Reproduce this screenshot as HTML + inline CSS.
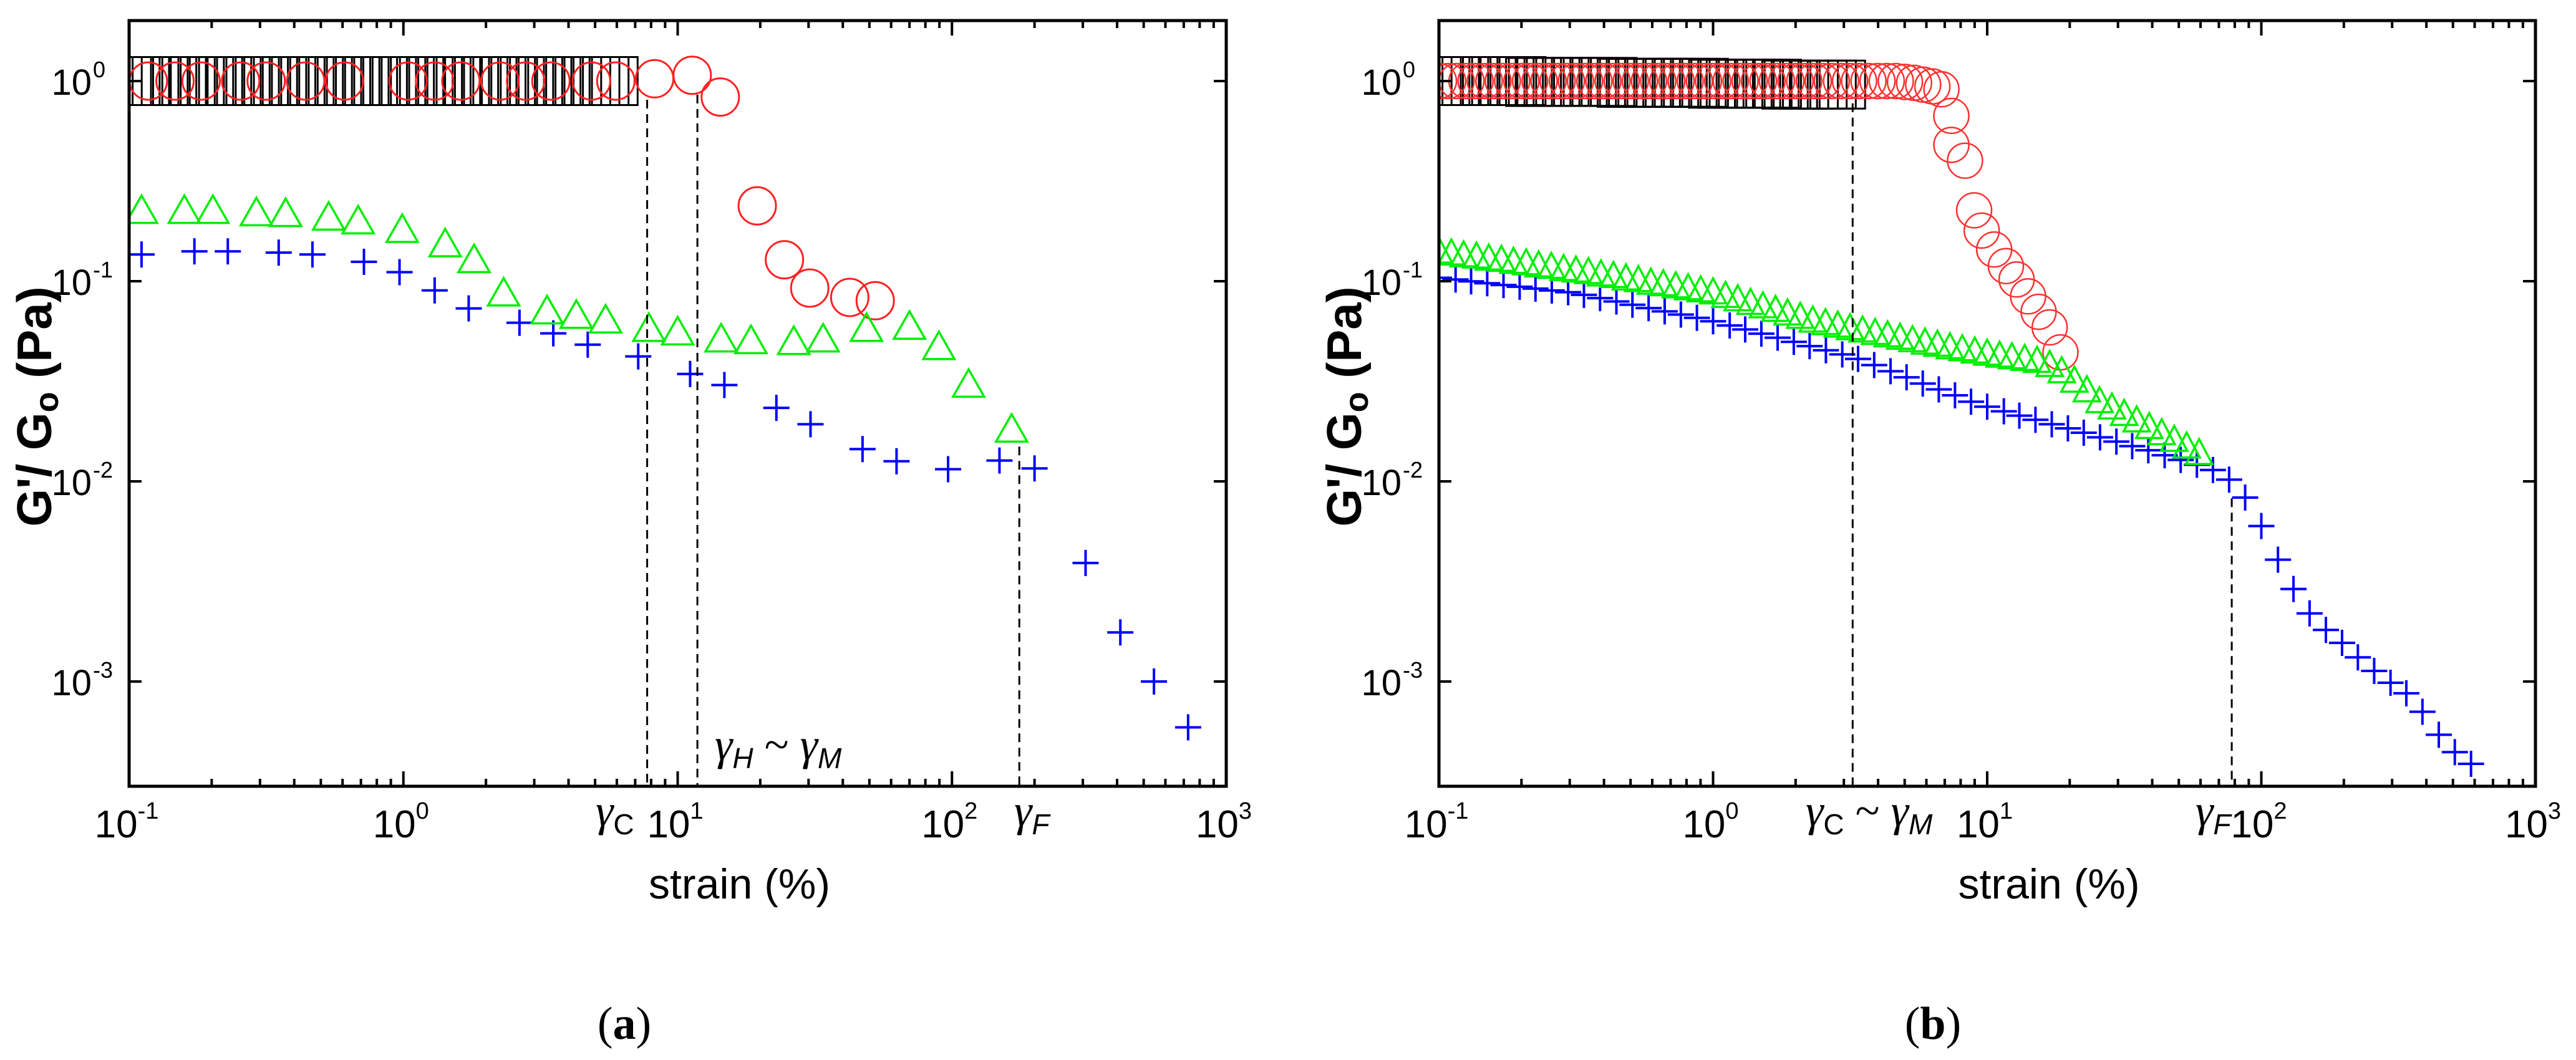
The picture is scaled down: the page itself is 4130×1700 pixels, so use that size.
<!DOCTYPE html>
<html><head><meta charset="utf-8"><title>G'/G0 vs strain</title>
<style>html,body{margin:0;padding:0;background:#fff}svg{display:block}</style></head>
<body>
<svg id="fig" xmlns="http://www.w3.org/2000/svg" width="4130" height="1700" viewBox="0 0 4130 1700">
<defs>
<clipPath id="clipA"><rect x="207" y="33" width="1759" height="1228"/></clipPath>
<clipPath id="clipB"><rect x="2307" y="33" width="1758" height="1228"/></clipPath>
</defs>
<rect width="4130" height="1700" fill="#fff"/>
<g id="panelA"></g>
<g id="panelB"></g>
</svg>
<script>
// ---------- data: panel (a) ----------
const A_sq_x = [0.1,0.108,0.116,0.126,0.136,0.147,0.158,0.171,0.185,0.2,0.215,0.233,0.251,0.271,0.293,0.316,0.341,0.369,0.398,0.43,0.464,0.501,0.541,0.584,0.631,0.681,0.736,0.794,0.858,0.926,1,1.08,1.16,1.26,1.36,1.47,1.58,1.71,1.85,2,2.15,2.33,2.51,2.71,2.93,3.16,3.41,3.69,3.98,4.3,4.64,5.01,5.41,5.84];
const A_sq_y = [1,1,1,1,1,1,1,1,1,1,1,1,1,1,1,1,1,1,1,1,1,1,1,1,1,1,1,1,1,1,1,1,1,1,1,1,1,1,1,1,1,1,1,1,1,1,1,1,1,1,1,1,1,1];
const A_ci_x = [0.1175,0.147,0.183,0.255,0.316,0.44,0.61,1.04,1.30,1.62,2.25,2.79,3.45,4.85,5.95,8.24,11.3,14.3,19.5,24.5,30.3,42.4,52.5];
const A_ci_y = [1,1,1,1,1,1,1,1,1,1,1,1,1,1,1,1.027,1.069,0.832,0.238,0.128,0.0924,0.083,0.0799];
const A_tr_x = [0.111,0.159,0.202,0.291,0.372,0.534,0.684,0.99,1.42,1.81,2.32,3.34,4.27,5.46,7.85,10.0,14.4,18.5,26.5,33.9,48.8,70,89.6,115,165];
const A_tr_y = [0.229,0.229,0.229,0.223,0.221,0.212,0.203,0.184,0.156,0.130,0.0886,0.0721,0.0685,0.0649,0.0589,0.0566,0.0522,0.0512,0.0507,0.0522,0.0589,0.0604,0.0478,0.031,0.0185];
const A_cr_x = [0.111,0.173,0.229,0.351,0.466,0.718,0.968,1.30,1.73,2.65,3.52,4.70,7.18,11.1,14.8,22.9,30.5,47.2,62.8,96.8,149,200,307,411,545,726];
const A_cr_y = [0.136,0.141,0.141,0.139,0.136,0.125,0.111,0.090,0.0731,0.0620,0.0549,0.0482,0.0421,0.0344,0.0303,0.0233,0.0193,0.0145,0.0126,0.0115,0.0127,0.0116,0.00391,0.00176,0.00100,0.00059];
const A_marks = [7.74, 11.8, 176];
const A_markTop = [1.0, 1.06, 0.0185];
// ---------- data: panel (b) ----------
const B_sq_x = [0.1,0.108,0.116,0.126,0.136,0.147,0.158,0.171,0.185,0.2,0.215,0.233,0.251,0.271,0.293,0.316,0.341,0.369,0.398,0.43,0.464,0.501,0.541,0.584,0.631,0.681,0.736,0.794,0.858,0.926,1,1.08,1.16,1.26,1.36,1.47,1.58,1.71,1.85,2,2.15,2.33,2.51,2.71,2.93];
const B_sq_y = [1,1,1,1,1,1,1,1,1,1,0.99,0.99,0.99,0.99,0.99,0.99,0.99,0.99,0.99,0.99,0.98,0.98,0.98,0.98,0.98,0.98,0.98,0.98,0.98,0.98,0.97,0.97,0.97,0.97,0.97,0.97,0.97,0.97,0.96,0.96,0.96,0.96,0.96,0.96,0.96];
const B_ci_x = [0.1,0.108,0.116,0.126,0.136,0.147,0.158,0.171,0.185,0.2,0.215,0.233,0.251,0.271,0.293,0.316,0.341,0.369,0.398,0.43,0.464,0.501,0.541,0.584,0.631,0.681,0.736,0.794,0.858,0.926,1,1.08,1.16,1.26,1.36,1.47,1.58,1.71,1.85,2,2.15,2.33,2.51,2.71,2.93,3.16,3.41,3.69,3.98,4.3,4.64,5.01,5.41,5.84,6.31,6.81,7.4,7.4,8.3,8.96,9.55,10.6,11.7,12.8,14.1,15.4,16.9,18.5];
const B_ci_y = [1,1,1,1,1,1,1,1,1,1,1,1,1,1,1,1,1,1,1,1,1,1,1,1,1,1,1,1,1,1,1,1,1,1,1,1,1,1,1,1,1,1,1,1,1,1,1,1,1,1,1,0.99,0.98,0.96,0.94,0.91,0.67,0.48,0.40,0.226,0.179,0.144,0.119,0.102,0.084,0.0703,0.0588,0.0441];
const B_tr_x = [0.1,0.111,0.123,0.137,0.152,0.169,0.187,0.208,0.231,0.257,0.285,0.316,0.351,0.39,0.433,0.481,0.534,0.593,0.658,0.731,0.811,0.901,1,1.11,1.23,1.37,1.52,1.69,1.87,2.08,2.31,2.57,2.85,3.16,3.51,3.9,4.33,4.81,5.34,5.93,6.58,7.31,8.11,9.01,10,11.1,12.3,13.7,15.2,16.9,18.7,20.8,23.1,25.7,28.5,31.6,35.1,39,43.3,48.1,53.4,59.3];
const B_tr_y = [0.143,0.140,0.137,0.135,0.132,0.130,0.127,0.125,0.122,0.120,0.117,0.115,0.113,0.110,0.108,0.105,0.103,0.100,0.0982,0.0959,0.0938,0.0916,0.0895,0.0859,0.0826,0.0793,0.0762,0.0731,0.0702,0.0675,0.0647,0.0628,0.0610,0.0593,0.0577,0.0561,0.0546,0.0531,0.0516,0.0502,0.0490,0.0476,0.0465,0.0453,0.0442,0.0432,0.0424,0.0416,0.0407,0.0388,0.0361,0.0324,0.0290,0.0256,0.0238,0.0221,0.0205,0.0190,0.0177,0.0164,0.0152,0.0141];
const B_cr_x = [0.1,0.115,0.131,0.150,0.172,0.197,0.225,0.258,0.296,0.338,0.387,0.444,0.508,0.582,0.666,0.763,0.873,1,1.15,1.31,1.50,1.72,1.97,2.25,2.58,2.96,3.38,3.87,4.44,5.08,5.82,6.66,7.63,8.73,10,11.5,13.1,15.0,17.2,19.7,22.5,25.8,29.6,33.8,38.7,44.4,50.8,58.2,66.6,76.3,87.3,100,115,131,150,172,197,225,258,296,338,387,444,508,582];
const B_cr_y = [0.104,0.102,0.0998,0.0977,0.0957,0.0938,0.0918,0.0899,0.0881,0.0855,0.0823,0.0792,0.0763,0.0734,0.0707,0.0681,0.0656,0.0631,0.0601,0.0574,0.0547,0.0522,0.0498,0.0474,0.0452,0.0431,0.0409,0.0381,0.0355,0.0331,0.0308,0.0288,0.0269,0.0250,0.0236,0.0224,0.0213,0.0203,0.0193,0.0184,0.0175,0.0166,0.0158,0.0150,0.0143,0.0135,0.0128,0.0121,0.0114,0.0102,0.0083,0.00598,0.00406,0.00290,0.00219,0.00181,0.00156,0.00132,0.00113,0.000986,0.000873,0.000706,0.000542,0.000444,0.000388];
const B_marks = [3.23, 78];
const B_markTop = [0.96, 0.0102];
const xDecades = [-1, 0, 1, 2, 3];
const yDecades = [0, -1, -2, -3];

const NS = 'http://www.w3.org/2000/svg';
function mk(tag, attrs, parent) {
  const e = document.createElementNS(NS, tag);
  for (const k in attrs) e.setAttribute(k, attrs[k]);
  parent.appendChild(e);
  return e;
}

function makePanel(g, x0, x1, clipId) {
  const top = 33, bottom = 1261;
  const dec = (x1 - x0) / 4;
  const X = v => x0 + dec * (Math.log10(v) + 1);
  const Y = v => 130 - 321 * Math.log10(v);
  return {g, x0, x1, top, bottom, X, Y, clipId};
}

function drawAxes(P) {
  const {g, x0, x1, top, bottom, X, Y} = P;
  const frame = mk('rect', {x: x0, y: top, width: x1 - x0, height: bottom - top, fill: 'none', stroke: '#000', 'stroke-width': 5}, g);
  
  
  for (let d = -1; d <= 2; d++) {
    for (let m = 1; m <= 9; m++) {
      const v = m * Math.pow(10, d);
      const px = X(v);
      const len = m === 1 ? 24 : 12;
      if (m === 1 && d === -1) continue;
      const tb = mk('line', {x1: px, x2: px, y1: bottom, y2: bottom - len, stroke: '#000', 'stroke-width': 4}, g);
      
      
      const tt = mk('line', {x1: px, x2: px, y1: top, y2: top + len, stroke: '#000', 'stroke-width': 4}, g);
      
      
    }
  }
  xDecades.forEach(d => {
    const px = X(Math.pow(10, d));
    const t = mk('text', {x: px - 4, y: 1343, 'font-family': 'Liberation Sans, sans-serif', 'font-size': 62, 'text-anchor': 'middle'}, g);
    
    
    t.appendChild(document.createTextNode('10'));
    const s = mk('tspan', {dy: -30, 'font-size': 38}, t);
    s.textContent = String(d);
  });
  yDecades.forEach(d => {
    const py = Y(Math.pow(10, d));
    const l1 = mk('line', {x1: x0, x2: x0 + 20, y1: py, y2: py, stroke: '#000', 'stroke-width': 4}, g);
    
    
    const l2 = mk('line', {x1: x1, x2: x1 - 20, y1: py, y2: py, stroke: '#000', 'stroke-width': 4}, g);
    
    
    const t = mk('text', {x: x0 - 60, y: py + 22, 'font-family': 'Liberation Sans, sans-serif', 'font-size': 58, 'text-anchor': 'end'}, g);
    
    
    t.textContent = '10';
    const s = mk('text', {x: x0 - 58, y: py - 6, 'font-family': 'Liberation Sans, sans-serif', 'font-size': 36, 'text-anchor': 'start'}, g);
    
    
    s.textContent = String(d);
  });
  const xt = mk('text', {x: (x0 + x1) / 2 + 99, y: 1441, 'font-family': 'Liberation Sans, sans-serif', 'font-size': 68, 'text-anchor': 'middle'}, g);
  
  
  xt.textContent = 'strain (%)';
  const cx = x0 - 146, cy = 652;
  const yt = mk('text', {x: cx, y: cy, transform: `rotate(-90 ${cx} ${cy})`, 'font-family': 'Liberation Sans, sans-serif', 'font-size': 78, 'font-weight': 'bold', 'text-anchor': 'middle', 'dominant-baseline': 'middle'}, g);
  
  
  yt.appendChild(document.createTextNode("G'/ G"));
  const sub = mk('tspan', {dy: 18, 'font-size': 54}, yt);
  sub.textContent = 'o';
  const rest = mk('tspan', {dy: -18}, yt);
  rest.textContent = ' (Pa)';
}

function drawSeries(P, xs, ys, kind, name) {
  const {g, X, Y, clipId} = P;
  const sg = mk('g', {'clip-path': `url(#${clipId})`}, g);
  
  
  xs.forEach((xv, i) => {
    const px = X(xv), py = Y(ys[i]);
    let e;
    if (kind === 'square') {
      e = mk('rect', {x: px - 38.5, y: py - 38.5, width: 77, height: 77, fill: 'none', stroke: '#000', 'stroke-width': 3}, sg);
    } else if (kind === 'circleA') {
      e = mk('circle', {cx: px, cy: py, r: 30, fill: 'none', stroke: '#ff2020', 'stroke-width': 3}, sg);
    } else if (kind === 'circleB') {
      e = mk('circle', {cx: px, cy: py, r: 28, fill: 'none', stroke: '#ff3030', 'stroke-width': 2.5}, sg);
    } else if (kind === 'triA' || kind === 'triB') {
      const w = kind === 'triA' ? 25 : 21, h = kind === 'triA' ? 22 : 20;
      e = mk('polygon', {points: `${px - w},${py + h} ${px + w},${py + h} ${px},${py - h}`, fill: 'none', stroke: '#00ee00', 'stroke-width': 3.5}, sg);
    } else {
      e = mk('path', {d: `M${px - 21},${py}H${px + 21}M${px},${py - 21}V${py + 21}`, fill: 'none', stroke: '#0000ff', 'stroke-width': 4}, sg);
    }
    
    
  });
}

function drawMarks(P, xs, tops) {
  const {g, X, Y, bottom} = P;
  xs.forEach((xv, i) => {
    const px = X(xv);
    const l = mk('line', {x1: px, x2: px, y1: Y(tops[i]) + 30, y2: bottom, stroke: '#000', 'stroke-width': 3, 'stroke-dasharray': '14 9'}, g);
    
    
  });
}

function gammaLabel(g, x, y, parts, name) {
  const t = mk('text', {x: x, y: y, 'font-family': 'Liberation Serif, serif', 'font-size': 72, 'font-style': 'italic'}, g);
  
  
  parts.forEach(p => {
    const s = mk('tspan', p.sub ? {'font-family': 'Liberation Sans, sans-serif', 'font-size': 46, dy: 14, 'font-style': p.ital ? 'italic' : 'normal'} : {dy: p.dy || 0, 'font-style': p.up ? 'normal' : 'italic'}, t);
    s.textContent = p.t;
  });
}

// ----- panel (a)
const gA = document.getElementById('panelA');
const PA = makePanel(gA, 207, 1966, 'clipA');
drawSeries(PA, A_sq_x, A_sq_y, 'square', 'series-squares-a');
drawSeries(PA, A_ci_x, A_ci_y, 'circleA', 'series-circles-a');
drawSeries(PA, A_cr_x, A_cr_y, 'cross', 'series-crosses-a');
drawSeries(PA, A_tr_x, A_tr_y, 'triA', 'series-triangles-a');
drawMarks(PA, A_marks, A_markTop);
drawAxes(PA);
gammaLabel(gA, 955, 1324, [{t: 'γ'}, {t: 'C', sub: true}], 'gamma-c-label');
gammaLabel(gA, 1146, 1218, [{t: 'γ'}, {t: 'H', sub: true, ital: true}, {t: ' ~ ', dy: -14, up: true}, {t: 'γ'}, {t: 'M', sub: true, ital: true}], 'gamma-h-m-label');
gammaLabel(gA, 1626, 1324, [{t: 'γ'}, {t: 'F', sub: true, ital: true}], 'gamma-f-label');
const la = mk('text', {x: 1001, y: 1666, 'font-family': 'Liberation Serif, serif', 'font-size': 74, 'text-anchor': 'middle'}, gA);


la.appendChild(document.createTextNode('('));
const lab = mk('tspan', {'font-weight': 'bold'}, la); lab.textContent = 'a';
la.appendChild(document.createTextNode(')'));

// ----- panel (b)
const gB = document.getElementById('panelB');
const PB = makePanel(gB, 2307, 4065, 'clipB');
drawSeries(PB, B_sq_x, B_sq_y, 'square', 'series-squares-b');
drawSeries(PB, B_ci_x, B_ci_y, 'circleB', 'series-circles-b');
drawSeries(PB, B_cr_x, B_cr_y, 'cross', 'series-crosses-b');
drawSeries(PB, B_tr_x, B_tr_y, 'triB', 'series-triangles-b');
drawMarks(PB, B_marks, B_markTop);
drawAxes(PB);
gammaLabel(gB, 2895, 1324, [{t: 'γ'}, {t: 'C', sub: true}, {t: ' ~ ', dy: -14, up: true}, {t: 'γ'}, {t: 'M', sub: true, ital: true}], 'gamma-c-m-label');
gammaLabel(gB, 3520, 1324, [{t: 'γ'}, {t: 'F', sub: true, ital: true}], 'gamma-f-label');
const lb = mk('text', {x: 3099, y: 1666, 'font-family': 'Liberation Serif, serif', 'font-size': 74, 'text-anchor': 'middle'}, gB);


lb.appendChild(document.createTextNode('('));
const lbb = mk('tspan', {'font-weight': 'bold'}, lb); lbb.textContent = 'b';
lb.appendChild(document.createTextNode(')'));
</script>
</body></html>
